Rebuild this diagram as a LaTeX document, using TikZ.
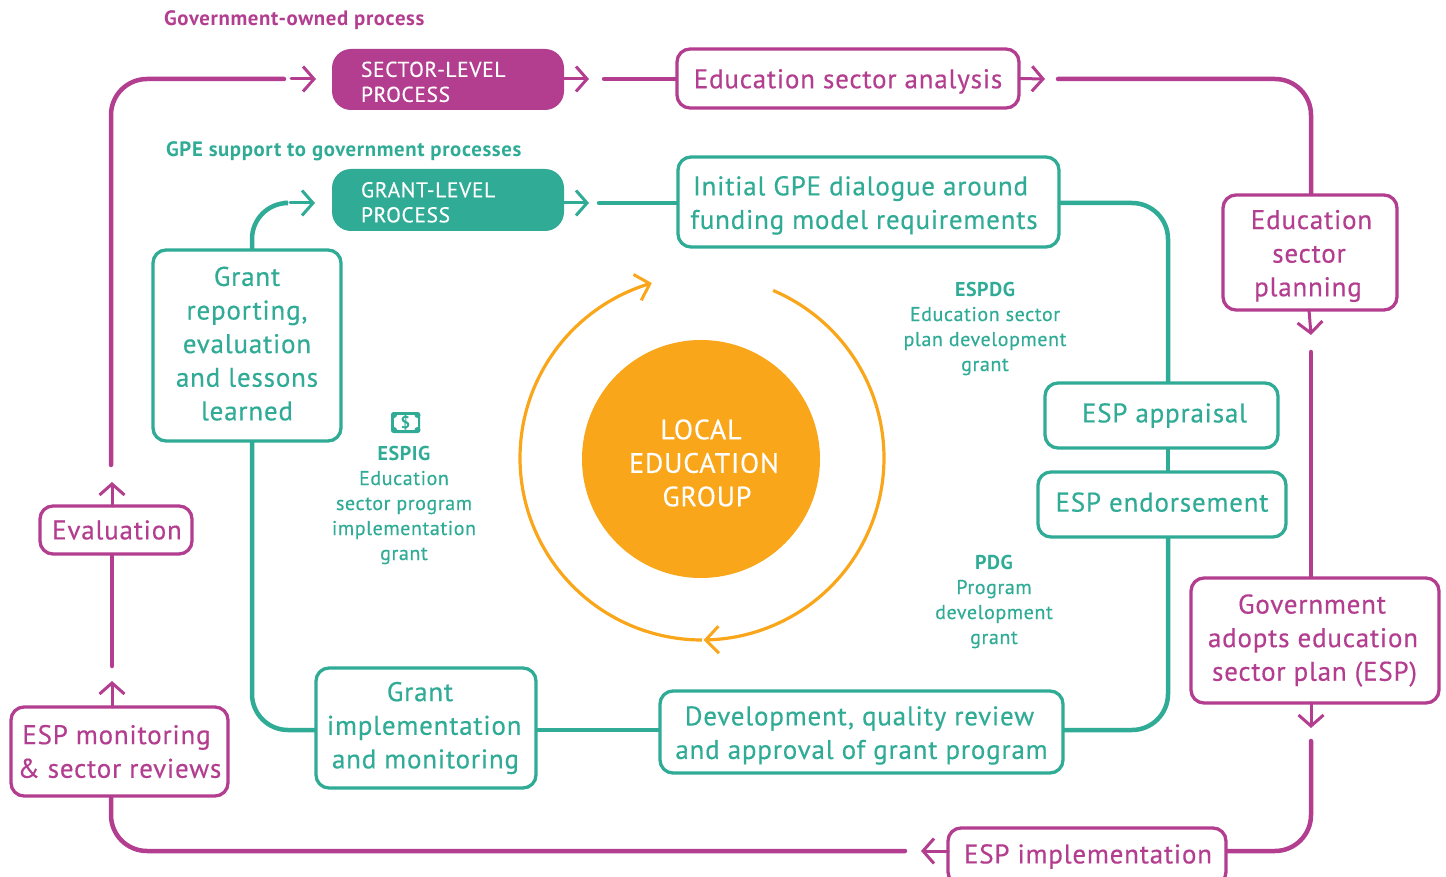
\documentclass[tikz,border=0pt]{standalone}
\usepackage{fontspec}
\setmainfont{PT Sans}[LetterSpace=3,UprightFeatures={RawFeature={embolden=0.35}}]
\usetikzlibrary{arrows.meta}
\definecolor{mag}{HTML}{B33D8F}
\definecolor{teal2}{HTML}{2FAB96}
\definecolor{org}{HTML}{FAA61A}
\newcommand{\fs}[2]{\fontsize{#1}{#2}\selectfont}
\newcommand{\sh}[2]{\hspace*{#1pt}#2\hspace*{-#1pt}}
\newcommand{\up}[1]{\rule{0pt}{#1pt}}
\newcommand{\lo}[1]{\rule[-#1pt]{0pt}{#1pt}}
\newcommand{\bx}[6]{\node[#5,minimum width={(#3-#1)*1pt},minimum height={(#4-#2)*1pt}] (#6) at ({(#1+#3)/2},{(#2+#4)/2})}
\tikzset{
 x=1pt,y=-1pt,
 box/.style={draw,line width=3.3pt,rounded corners=13pt,inner sep=0pt,outer sep=0pt,align=center,fill=white},
 mbox/.style={box,draw=mag,text=mag,font=\fs{27}{33.6}},
 tbox/.style={box,draw=teal2,text=teal2,font=\fs{27}{33.6}},
 fbox/.style={draw=none,rounded corners=19pt,inner sep=0pt,outer sep=0pt,text=white,align=left,text width=174pt,font=\fs{21.5}{25}},
 thick m/.style={draw=mag,line width=4.5pt,line cap=round,rounded corners=36pt},
 thick t/.style={draw=teal2,line width=4.5pt,line cap=round,rounded corners=36pt},
 chev/.style={-{Straight Barb[length=11pt,width=25pt,line width=3pt]},line width=3pt,line cap=round},
 thin m/.style={chev,draw=mag},
 thin t/.style={chev,draw=teal2},
 captxt/.style={inner sep=0pt,outer sep=0pt,align=center,font=\fs{20}{25},text=teal2},
}
\begin{document}
\begin{tikzpicture}
\useasboundingbox (0,0) rectangle (1446,877);
\begin{scope}
\clip (0,0) rectangle (1446,877);
% free-end coordinates
\coordinate (a1) at (1058,79);
\coordinate (a2) at (1045,79);
\coordinate (a3) at (1311,335);
\coordinate (a4) at (1311,352);
\coordinate (a5) at (1311,728);
\coordinate (a6) at (1311,741);
\coordinate (a7) at (921,851);
\coordinate (a8) at (905,851);
\coordinate (a9) at (112,681);
\coordinate (a10) at (112,666);
\coordinate (a11) at (112,482);
\coordinate (a12) at (111,465);
\coordinate (a13) at (284,79);
\coordinate (a14) at (291,79);
\coordinate (a15) at (316,79);
\coordinate (a16) at (589,79);
\coordinate (a17) at (604,79);
\coordinate (b1) at (284,203);
\coordinate (b2) at (290,203);
\coordinate (b3) at (315,203);
\coordinate (b4) at (589,203);
\coordinate (b5) at (599,203);
% connectors are laid first, boxes over them
\path[thick m] (a1) -- (1311,79) -- (1311,195);
\path[thick m] (a4) -- (1311,578);
\path[thick m] (a6) -- (1311,851) -- (1226,851);
\path[thick m] (a8) -- (111,851) -- (111,796);
\path[thick m] (a10) -- (112,554);
\path[thick m] (a12) -- (111,79) -- (a13);
\path[thick m] (a17) -- (677,79);
\path[thick t] (b1) -- (252,203) -- (252,250);
\path[thick t] (b5) -- (678,203);
\path[thick t] (1059,203) -- (1168,203) -- (1168,383);
\path[thick t] (1168,448) -- (1168,472);
\path[thick t] (1168,537) -- (1168,730) -- (1063,730);
\path[thick t] (660,730) -- (536,730);
\path[thick t] (316,730) -- (252,730) -- (252,441);
% boxes
\bx{332}{49}{564}{110}{fbox,fill=mag}{sec} {\up{20}SECTOR-LEVEL\\PROCESS};
\bx{332}{169}{564}{231}{fbox,fill=teal2}{gra} {\up{20}GRANT-LEVEL\\PROCESS};
\bx{677}{49}{1019}{108}{mbox}{esa} {\up{25}Education sector analysis};
\bx{1223}{195}{1397}{310}{mbox}{esp} {\up{26}\sh{1.5}{Education}\\\sh{-2}{sector}\\\sh{-2}{planning}};
\bx{1191}{578}{1439}{703}{mbox}{gov} {\sh{-3}{Government}\\\sh{-4}{adopts education}\\\sh{-0.5}{sector plan (ESP)}};
\bx{948}{828}{1226}{885}{mbox}{imp} {\raisebox{3pt}{\sh{1}{ESP implementation}}};
\bx{11}{707}{228}{796}{mbox}{mon} {\sh{-3}{ESP monitoring}\\\& sector reviews};
\bx{40}{506}{192}{554}{mbox}{eva} {\sh{1}{Evaluation}};
\bx{678}{157}{1059}{247}{tbox}{ini} {\up{26}\sh{-8}{Initial GPE dialogue around}\\\sh{-4.5}{funding model requirements}};
\bx{153}{250}{341}{441}{tbox}{rep} {Grant\\reporting,\\evaluation\\and lessons\\learned\lo{4}};
\bx{1045}{383}{1278}{448}{tbox}{app} {\sh{3}{ESP appraisal}};
\bx{1038}{472}{1286}{537}{tbox}{end} {ESP endorsement\lo{5}};
\bx{316}{668}{536}{788}{tbox}{gim} {\sh{-6}{Grant}\\\sh{-3.5}{implementation}\\\sh{-0.5}{and monitoring}};
\bx{660}{691}{1063}{773}{tbox}{dev} {\up{26}\sh{-2}{Development, quality review}\\and approval of grant program};
% chevron connectors
\draw[thin m] (esa.east) -- (a2);
\draw[thin m] (esp.south) ++(-1,0) -- (a3);
\draw[thin m] (gov.south) ++(-4,0) -- (a5);
\draw[thin m] (imp.west |- a7) -- (a7);
\draw[thin m] (mon.north) ++(-7.5,0) -- (a9);
\draw[thin m] (eva.north) ++(-4,0) -- (a11);
\draw[thin m] (a14) -- (a15);
\draw[thin m] (sec.east |- a16) -- (a16);
\draw[thin t] (b2) -- (b3);
\draw[thin t] (gra.east |- b4) -- (b4);
\end{scope}
% headings
\node[inner sep=0pt,anchor=west,text=mag,font=\fs{20.8}{25}\bfseries] (h1) at (164,20.5) {Government-owned process};
\node[inner sep=0pt,anchor=west,text=teal2,font=\fs{20.8}{25}\bfseries] (h2) at (166,151.5) {GPE support to government processes};
% centre
\node[circle,fill=org,minimum size=238pt,inner sep=0pt] (leg) at (701,459) {};
\node[inner sep=0pt,text=white,align=center,font=\fs{28}{33.5}] (legt) at (704,463) {\sh{-3}{LOCAL}\\EDUCATION\\\sh{3}{GROUP}};
\draw[org,line width=3.2pt,-{Straight Barb[length=13pt,width=27pt,line width=3pt]}] plot[domain=67:-89.5,samples=120] ({702+182*cos(\x)},{458-182*sin(\x)});
\draw[org,line width=3.2pt,-{Straight Barb[length=13pt,width=27pt,line width=3pt]}] plot[domain=-90:-254,samples=120] ({702+182*cos(\x)},{458-182*sin(\x)});
% grant captions
\node[captxt] (c1) at (985,328.5) {{\bfseries ESPDG}\\Education sector\\plan development\\grant};
\node[captxt] (c2) at (994,601.5) {{\bfseries PDG}\\Program\\development\\grant};
\node[captxt] (c3) at (404,505) {{\bfseries ESPIG}\\Education\\sector program\\implementation\\grant};
% money icon
\fill[teal2,rounded corners=3pt] (391,412) rectangle (420,433);
\fill[white] (394,415) rectangle (417.5,430);
\fill[teal2] (394,415) circle[radius=3pt] (417.5,415) circle[radius=3pt] (394,430) circle[radius=3pt] (417.5,430) circle[radius=3pt];
\node[inner sep=0pt,text=teal2,font=\fs{17}{17}\bfseries] (dol) at (405.5,422.5) {\$};
\end{tikzpicture}
\end{document}
